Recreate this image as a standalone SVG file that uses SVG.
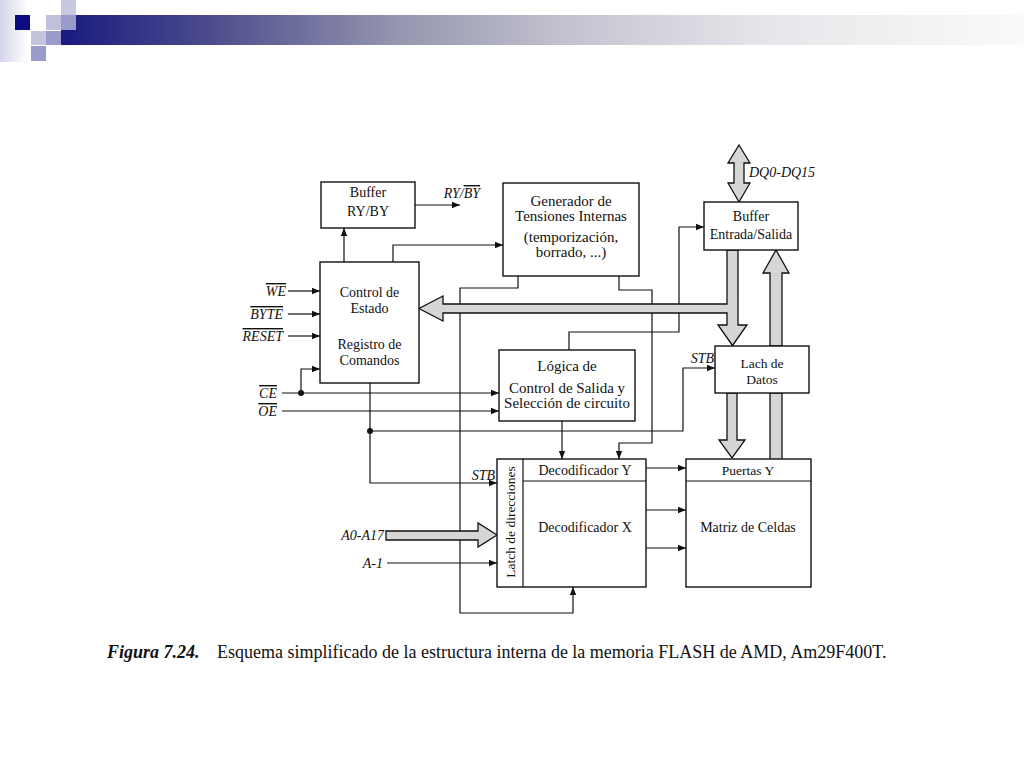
<svg xmlns="http://www.w3.org/2000/svg" width="1024" height="768" viewBox="0 0 1024 768">
<defs>
<linearGradient id="bar" x1="0" y1="0" x2="1" y2="0">
<stop offset="0" stop-color="#1a1a80"/>
<stop offset="0.15" stop-color="#4a4a8c"/>
<stop offset="0.35" stop-color="#9696b0"/>
<stop offset="0.55" stop-color="#c8c8d4"/>
<stop offset="0.75" stop-color="#e8e8ec"/>
<stop offset="1" stop-color="#fafafa"/>
</linearGradient>
<linearGradient id="edge" x1="0" y1="0" x2="1" y2="0">
<stop offset="0" stop-color="#d4d4ea"/>
<stop offset="1" stop-color="#ffffff"/>
</linearGradient>
<marker id="ah" viewBox="0 0 10 10" refX="10" refY="5" markerWidth="9" markerHeight="8" markerUnits="userSpaceOnUse" orient="auto">
<path d="M0,1 L10,5 L0,9 z" fill="#111"/>
</marker>
<style>
.box{fill:#fff;stroke:#111;stroke-width:1.4}
.ln{fill:none;stroke:#111;stroke-width:1.2}
.arr{fill:none;stroke:#111;stroke-width:1.2;marker-end:url(#ah)}
.bus{fill:#d6d6d6;stroke:#111;stroke-width:1.3;stroke-linejoin:miter}
.t{font-family:"Liberation Serif","Times New Roman",serif;font-size:14px;fill:#111;text-anchor:middle}
.t15{font-size:15px}
.t13{font-size:13.5px}
.lb{font-family:"Liberation Serif","Times New Roman",serif;font-size:14px;font-style:italic;fill:#111;text-anchor:end}
.ov{text-decoration:overline}
.cap{font-family:"Liberation Serif","Times New Roman",serif;font-size:18px;fill:#111}
</style>
</defs>
<rect width="1024" height="768" fill="#fff"/>

<g id="header">
<rect x="0" y="0" width="28" height="62" fill="url(#edge)"/>
<rect x="61" y="15" width="963" height="30" fill="url(#bar)"/>
<rect x="15" y="15" width="15" height="15" fill="#0c0c80"/>
<rect x="61" y="0" width="15" height="15" fill="#c8c8e0"/>
<rect x="46" y="15" width="15" height="15" fill="#c0c0dc"/>
<rect x="61" y="15" width="15" height="15" fill="#9a9acb"/>
<rect x="31" y="31" width="15" height="14" fill="#c4c4dc"/>
<rect x="46" y="31" width="15" height="14" fill="#9a9acb"/>
<rect x="31" y="46" width="15" height="15" fill="#9a9acb"/>
</g>

<g id="connectors">
<line class="arr" x1="344" y1="262" x2="344" y2="228"/>
<line class="arr" x1="415" y1="205" x2="460" y2="205"/>
<polyline class="arr" points="393,262 393,245 503,245"/>
<line class="arr" x1="288" y1="291" x2="320" y2="291"/>
<line class="arr" x1="288" y1="314" x2="320" y2="314"/>
<line class="arr" x1="288" y1="336" x2="320" y2="336"/>
<polyline class="arr" points="301,393 301,369 320,369"/>
<line class="arr" x1="282" y1="393" x2="499" y2="393"/>
<line class="arr" x1="282" y1="411" x2="499" y2="411"/>
<circle cx="301" cy="393" r="3" fill="#111"/>
<polyline class="arr" points="370,383 370,483 497,483"/>
<circle cx="370" cy="431" r="3" fill="#111"/>
<polyline class="arr" points="370,431 683,431 683,368 715,368"/>
<polyline class="arr" points="569,350 569,332 679,332 679,227 704,227"/>
<line class="arr" x1="562" y1="421" x2="562" y2="459"/>
<polyline class="arr" points="518,276 518,288 460,288 460,613 573,613 573,587"/>
<polyline class="arr" points="619,276 619,290 652,290 652,443 619,443 619,459"/>
<line class="arr" x1="646" y1="468" x2="686" y2="468"/>
<line class="arr" x1="646" y1="510" x2="686" y2="510"/>
<line class="arr" x1="646" y1="548" x2="686" y2="548"/>
<line class="arr" x1="387" y1="563" x2="497" y2="563"/>
<polygon class="bus" points="738,250 738,325 747,325 732.5,345.5 718,325 727,325 727,313 443,313 443,321 419,308.5 443,296 443,304 727,304 727,250"/>
<polygon class="bus" points="770,346 770,273 763,273 776,250 789,273 782,273 782,346"/>
<polygon class="bus" points="739,145 750,163 744,163 744,183 750,183 739,202 728,183 734,183 734,163 728,163"/>
<polygon class="bus" points="727,393 727,440 719,440 732,458 745,440 737,440 737,393"/>
<rect class="bus" x="770" y="393" width="12" height="69"/>
<polygon class="bus" points="386,531 478,531 478,523 497,535 478,547 478,540 386,540"/>
</g>

<g id="buffer-ryby">
<rect class="box" x="321" y="182" width="94" height="46"/>
<text class="t" x="368" y="197">Buffer</text>
<text class="t" x="368" y="216">RY/BY</text>
</g>

<g id="control-estado">
<rect class="box" x="320" y="262" width="99" height="121"/>
<text class="t" x="369.5" y="297">Control de</text>
<text class="t" x="369.5" y="313">Estado</text>
<text class="t" x="369.5" y="349">Registro de</text>
<text class="t" x="369.5" y="365">Comandos</text>
</g>

<g id="generador">
<rect class="box" x="503" y="183" width="136" height="93"/>
<text class="t t15" x="571" y="206">Generador de</text>
<text class="t t15" x="571" y="221">Tensiones Internas</text>
<text class="t t15" x="571" y="242">(temporización,</text>
<text class="t t15" x="571" y="257">borrado, ...)</text>
</g>

<g id="buffer-es">
<rect class="box" x="704" y="202" width="94" height="48"/>
<text class="t" x="751" y="221">Buffer</text>
<text class="t" x="751" y="239">Entrada/Salida</text>
</g>

<g id="lach-datos">
<rect class="box" x="715" y="346" width="94" height="47"/>
<text class="t t13" x="762" y="368">Lach de</text>
<text class="t t13" x="762" y="384">Datos</text>
</g>

<g id="logica">
<rect class="box" x="499" y="350" width="136" height="71"/>
<text class="t t15" x="567" y="371">Lógica de</text>
<text class="t t15" x="567" y="393">Control de Salida y</text>
<text class="t t15" x="567" y="408">Selección de circuito</text>
</g>

<g id="latch-decoder">
<rect class="box" x="497" y="459" width="149" height="128"/>
<line class="ln" x1="523" y1="459" x2="523" y2="587"/>
<line class="ln" x1="523" y1="481" x2="646" y2="481"/>
<text class="t t13" transform="translate(514.5,522) rotate(-90)">Latch de direcciones</text>
<text class="t" x="585" y="475">Decodificador Y</text>
<text class="t" x="585" y="532">Decodificador X</text>
</g>

<g id="matriz">
<rect class="box" x="686" y="459" width="125" height="128"/>
<line class="ln" x1="686" y1="481" x2="811" y2="481"/>
<text class="t t13" x="748" y="475">Puertas Y</text>
<text class="t" x="748" y="532">Matriz de Celdas</text>
</g>

<g id="labels">
<text class="lb" x="286" y="296"><tspan class="ov">WE</tspan></text>
<text class="lb" x="283" y="319"><tspan class="ov">BYTE</tspan></text>
<text class="lb" x="283" y="341"><tspan class="ov">RESET</tspan></text>
<text class="lb" x="277" y="398"><tspan class="ov">CE</tspan></text>
<text class="lb" x="277" y="416"><tspan class="ov">OE</tspan></text>
<text class="lb" x="480" y="198">RY/<tspan class="ov">BY</tspan></text>
<text class="lb" x="495" y="480">STB</text>
<text class="lb" x="714" y="363">STB</text>
<text class="lb" x="384" y="540">A0-A17</text>
<text class="lb" x="383" y="568">A-1</text>
<text class="lb" x="749" y="177" style="text-anchor:start">DQ0-DQ15</text>
</g>

<text class="cap" y="658"><tspan x="107" font-weight="bold" font-style="italic">Figura 7.24.</tspan><tspan x="217">Esquema simplificado de la estructura interna de la memoria FLASH de AMD, Am29F400T.</tspan></text>
</svg>
